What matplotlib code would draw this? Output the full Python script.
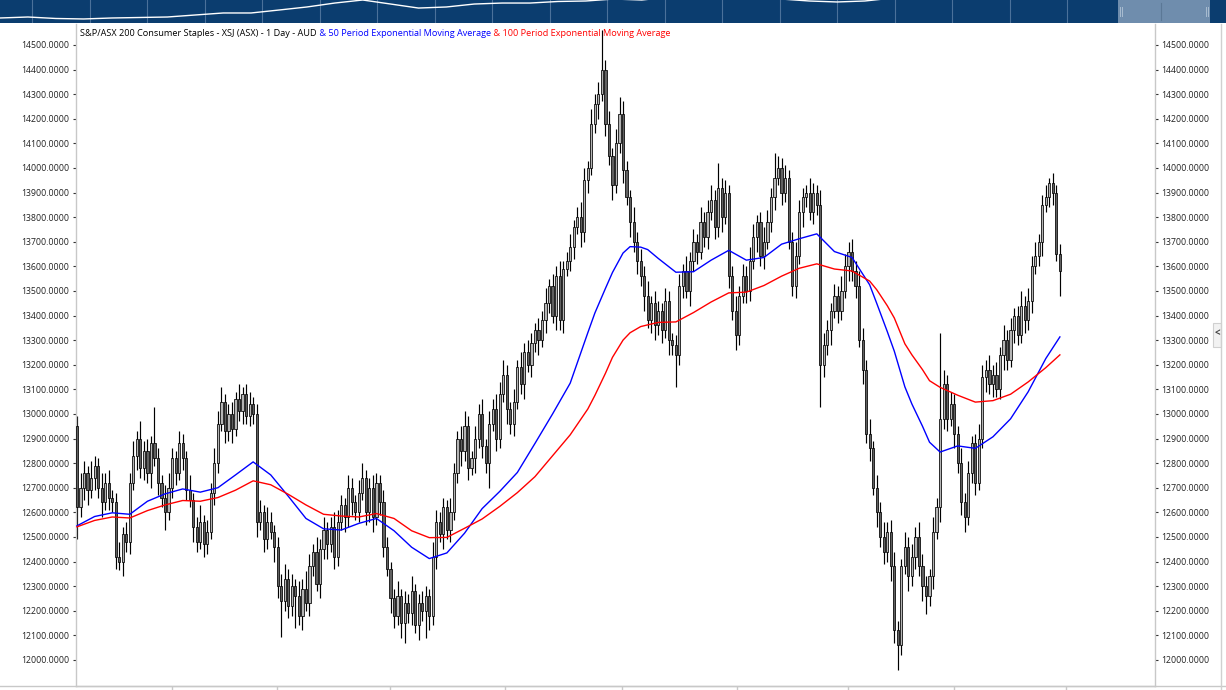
import matplotlib
matplotlib.use("Agg")
import matplotlib.pyplot as plt
from matplotlib.patches import Rectangle
from matplotlib.lines import Line2D
import numpy as np

plt.rcParams['font.family'] = ['Open Sans', 'DejaVu Sans']

# daily candles (open of day 0, then each open = previous close)
first_open = 12950
closes = [
    12620, 12700, 12760, 12690, 12740, 12790, 12700, 12640, 12720, 12660,
    12640, 12420, 12400, 12510, 12480, 12720, 12830, 12900, 12780, 12850,
    12760, 12880, 12820, 12720, 12660, 12600, 12700, 12820, 12760, 12880,
    12820, 12690, 12650, 12540, 12480, 12560, 12470, 12520, 12680, 12800,
    12960, 13050, 12930, 13000, 12940, 13060, 13010, 13080, 12990, 13040,
    13000, 12560, 12600, 12490, 12560, 12520, 12460, 12300, 12240, 12330,
    12220, 12300, 12260, 12180, 12290, 12230, 12380, 12440, 12310, 12450,
    12530, 12470, 12540, 12420, 12560, 12630, 12580, 12700, 12640, 12600,
    12680, 12740, 12600, 12700, 12580, 12720, 12640, 12460, 12370, 12250,
    12180, 12260, 12150, 12230, 12190, 12280, 12140, 12230, 12200, 12260,
    12180, 12420, 12560, 12510, 12620, 12530, 12600, 12760, 12900, 12850,
    12950, 12780, 12820, 12900, 13000, 12870, 12800, 12960, 13020, 12900,
    13080, 13160, 13020, 12960, 13050, 13190, 13120, 13250, 13200, 13290,
    13340, 13300, 13380, 13450, 13520, 13400, 13560, 13380, 13590, 13620,
    13680, 13760, 13800, 13740, 13950, 14000, 14180, 14260, 14300, 14400,
    14180, 14050, 13930, 14100, 14220, 13990, 13880, 13780, 13700, 13620,
    13560, 13480, 13380, 13450, 13360, 13420, 13340, 13460, 13300, 13280,
    13240, 13520, 13580, 13500, 13620, 13700, 13660, 13780, 13720, 13820,
    13870, 13760, 13920, 13800, 13900, 13560, 13420, 13320, 13480, 13560,
    13500, 13620, 13720, 13780, 13640, 13700, 13780, 13880, 13960, 14000,
    13900, 13960, 13700, 13520, 13640, 13820, 13880, 13900, 13820, 13900,
    13850, 13200, 13280, 13340, 13420, 13480, 13420, 13500, 13600, 13660,
    13580, 13520, 13300, 13180, 12920, 12860, 12700, 12600, 12500, 12440,
    12520, 12380, 12120, 12060, 12380, 12460, 12340, 12420, 12500, 12380,
    12300, 12260, 12340, 12520, 12620, 12980, 13120, 12980, 13040, 12920,
    12800, 12640, 12580, 12760, 12880, 12720, 12900, 13150, 13180, 13120,
    13160, 13100, 13240, 13300, 13220, 13340, 13400, 13320, 13440, 13380,
    13460, 13600, 13640, 13700, 13850, 13880, 13940, 13900, 13650, 13580,
]
# wick length above / below the body
wick_hi = [
    40, 60, 50, 30, 70, 40, 30, 60, 40, 50,
    30, 40, 60, 30, 50, 40, 60, 30, 70, 40,
    50, 30, 150, 40, 30, 50, 60, 40, 30, 50,
    40, 30, 60, 30, 40, 70, 30, 50, 40, 60,
    50, 60, 30, 40, 50, 30, 60, 30, 40, 50,
    30, 40, 50, 30, 60, 40, 30, 40, 50, 60,
    40, 50, 30, 60, 40, 70, 50, 30, 60, 40,
    50, 30, 40, 60, 50, 40, 30, 50, 40, 30,
    50, 60, 30, 40, 50, 40, 30, 50, 40, 30,
    40, 60, 30, 50, 40, 60, 30, 40, 50, 40,
    30, 60, 50, 40, 40, 30, 60, 40, 30, 50,
    60, 40, 30, 50, 40, 60, 30, 50, 40, 60,
    50, 60, 40, 30, 50, 30, 60, 40, 50, 40,
    30, 50, 40, 60, 30, 50, 40, 60, 30, 40,
    50, 30, 40, 60, 50, 30, 60, 40, 50, 160,
    40, 50, 30, 60, 70, 50, 40, 30, 60, 40,
    50, 40, 60, 30, 50, 40, 30, 50, 40, 30,
    40, 50, 30, 60, 40, 50, 30, 60, 40, 50,
    60, 40, 100, 40, 50, 30, 40, 60, 40, 50,
    40, 60, 50, 30, 40, 60, 50, 40, 100, 50,
    40, 50, 30, 40, 60, 50, 40, 30, 60, 40,
    30, 60, 50, 40, 30, 50, 40, 60, 50, 40,
    50, 40, 60, 50, 40, 60, 30, 50, 40, 60,
    40, 50, 60, 40, 30, 60, 40, 50, 40, 60,
    50, 40, 30, 60, 40, 350, 60, 40, 50, 40,
    30, 60, 40, 50, 30, 40, 60, 50, 40, 60,
    40, 50, 30, 60, 40, 50, 30, 40, 60, 40,
    50, 40, 60, 30, 40, 50, 20, 40, 30, 40,
]
wick_lo = [
    130, 40, 50, 60, 30, 50, 40, 60, 30, 50,
    40, 50, 35, 60, 40, 50, 30, 60, 40, 50,
    40, 60, 30, 50, 40, 70, 30, 40, 50, 30,
    50, 40, 30, 60, 40, 30, 50, 40, 30, 50,
    40, 30, 50, 40, 60, 30, 40, 50, 30, 40,
    40, 60, 30, 50, 40, 30, 60, 50, 145, 40,
    50, 40, 130, 40, 60, 30, 50, 40, 30, 60,
    40, 60, 30, 50, 40, 30, 60, 40, 50, 30,
    40, 30, 50, 40, 60, 30, 50, 40, 30, 60,
    50, 40, 60, 80, 40, 50, 30, 60, 40, 110,
    60, 40, 50, 30, 60, 40, 50, 30, 40, 60,
    40, 50, 30, 60, 40, 50, 40, 100, 30, 50,
    40, 30, 60, 40, 50, 30, 40, 60, 30, 50,
    40, 60, 30, 50, 40, 30, 60, 40, 50, 30,
    40, 50, 30, 60, 40, 50, 30, 40, 60, 30,
    50, 40, 60, 30, 40, 50, 30, 60, 40, 50,
    40, 60, 30, 50, 60, 40, 50, 30, 60, 40,
    130, 40, 50, 30, 60, 40, 50, 30, 40, 50,
    30, 50, 40, 60, 30, 50, 40, 60, 40, 30,
    50, 40, 30, 60, 40, 50, 30, 40, 50, 30,
    50, 40, 30, 40, 50, 30, 60, 40, 30, 50,
    40, 170, 50, 40, 60, 30, 50, 40, 30, 60,
    40, 50, 30, 60, 40, 50, 30, 60, 40, 50,
    40, 60, 50, 100, 40, 30, 60, 40, 50, 40,
    60, 75, 40, 50, 30, 60, 40, 50, 30, 60,
    40, 50, 60, 30, 40, 50, 30, 40, 60, 40,
    50, 30, 40, 60, 40, 30, 50, 40, 30, 50,
    40, 50, 30, 40, 60, 30, 40, 50, 30, 100,
]

# moving averages at these sessions
ema_idx = [
    0, 5, 10, 15, 20, 25, 30, 35, 40, 45,
    50, 55, 60, 65, 70, 75, 80, 85, 90, 95,
    100, 105, 110, 115, 120, 125, 130, 135, 140, 145,
    147, 150, 152, 155, 157, 160, 162, 165, 170, 175,
    180, 185, 190, 195, 200, 205, 210, 215, 220, 225,
    227, 230, 232, 235, 237, 240, 242, 245, 250, 255,
    260, 265, 270, 275, 279,
]
ema50 = [
    12545, 12583, 12598, 12592, 12645, 12675, 12695, 12682, 12700, 12752,
    12805, 12752, 12665, 12575, 12533, 12528, 12555, 12575, 12525, 12458,
    12412, 12435, 12515, 12615, 12685, 12762, 12880, 13000, 13125, 13330,
    13410, 13510, 13575, 13654, 13680, 13678, 13668, 13632, 13576, 13578,
    13625, 13665, 13625, 13636, 13690, 13712, 13732, 13660, 13636, 13525,
    13450, 13335, 13255, 13110, 13040, 12950, 12885, 12845, 12870, 12860,
    12907, 12980, 13090, 13225, 13313,
]
ema100 = [
    12541, 12567, 12581, 12577, 12607, 12630, 12648, 12645, 12660, 12690,
    12728, 12712, 12673, 12630, 12592, 12585, 12581, 12595, 12575, 12525,
    12497, 12498, 12535, 12573, 12624, 12680, 12745, 12830, 12915, 13020,
    13075, 13165, 13230, 13300, 13330, 13355, 13362, 13372, 13374, 13412,
    13455, 13492, 13495, 13522, 13560, 13592, 13610, 13589, 13581, 13540,
    13505, 13440, 13390, 13285, 13240, 13180, 13135, 13108, 13076, 13048,
    13054, 13080, 13130, 13188, 13240,
]

# long-history overview shown in the navigator strip
nav_vals = [
    12210, 12330, 12150, 12090, 12210, 12270, 12330, 12575, 12820, 12820,
    13180, 13550, 14030, 14400, 13910, 13420, 13550, 13910, 14030, 14030,
    14220, 14280, 14520, 14400, 14760, 14760, 14880, 14760, 14520, 14280,
    14160, 14280, 14640, 14800, 14900, 14900, 15000, 15000, 14950, 15000,
    15050, 15050, 15100, 15100,
]

month_ticks = [27.0, 56.8, 88.8, 121.5, 154.7, 187.3, 218.8, 248.9, 280.7]
price_ticks = list(range(12000, 14600, 100))
title_parts = [
    ("S&P/ASX 200 Consumer Staples - XSJ (ASX) - 1 Day - AUD", "#000000"),
    (" & 50 Period Exponential Moving Average", "#0000ff"),
    (" & 100 Period Exponential Moving Average", "#ff0000"),
]

W, H = 1226, 690
fig = plt.figure(figsize=(W / 100, H / 100), dpi=100)
fig.patch.set_facecolor("white")

# ---- main price panel
ax = fig.add_axes([76 / W, 4 / H, (1155 - 76) / W, (686 - 24) / H])
ax.set_facecolor("white")

n = len(closes)
x = np.arange(n)
opens = np.array([first_open] + closes[:-1])
cl = np.array(closes)
top = np.maximum(opens, cl)
bot = np.minimum(opens, cl)
highs = top + np.array(wick_hi)
lows = bot - np.array(wick_lo)
up = cl >= opens

ax.vlines(x, lows, highs, color="black", lw=0.85, zorder=2)
body_h = np.where(np.abs(cl - opens) < 8, 8, cl - opens)
ax.bar(x[up], body_h[up], bottom=opens[up], width=0.62, color="#b4b4b4",
       edgecolor="black", linewidth=0.55, zorder=3)
ax.bar(x[~up], body_h[~up], bottom=opens[~up], width=0.62, color="#606060",
       edgecolor="black", linewidth=0.55, zorder=3)

ax.plot(ema_idx, ema50, color="#0000ff", lw=1.0, zorder=4)
ax.plot(ema_idx, ema100, color="#ff0000", lw=1.0, zorder=4)

ax.set_xlim(-0.28, 306)
ax.set_ylim(11894, 14585)

ax.spines["top"].set_visible(False)
for s in ["left", "right", "bottom"]:
    ax.spines[s].set_color("#c8c8c8")
    ax.spines[s].set_linewidth(1.0)

ax.set_yticks(price_ticks)
ax.set_yticklabels([f"{v:.4f}" for v in price_ticks])
ax.set_yticks([12000, 13000, 14000], minor=True)
ax.tick_params(axis="y", which="major", direction="out", length=2.2, width=0.8,
               color="#333333", labelsize=6.3, labelcolor="#222222", pad=2.6,
               left=True, right=True, labelleft=True, labelright=True)
ax.tick_params(axis="y", which="minor", direction="out", length=4.6, width=0.8,
               color="#333333", left=True, right=True)
ax.set_xticks(month_ticks)
ax.set_xticklabels([])
ax.tick_params(axis="x", direction="out", length=4, width=1, color="#c8c8c8")

# ---- navigator strip on top
nav = fig.add_axes([0, 1 - 23 / H, 1, 23 / H])
nav.set_facecolor("#0b3d6f")
nav.plot(np.arange(len(nav_vals)), nav_vals, color="white", lw=1.0)
nav.set_xlim(0, W / 27.9)
nav.set_ylim(11600, 14400)
for gx in np.arange(32, 1100, 57.5) / 27.9:
    nav.axvline(gx, color="#5c7fa6", lw=0.8, alpha=0.8, zorder=0)
nav.add_patch(Rectangle((1118 / W, 0), 92 / W, 1, transform=nav.transAxes,
                        facecolor="#7b97b5", edgecolor="none", alpha=0.9, zorder=3))
for hx in (1120, 1122, 1206, 1208):
    nav.add_line(Line2D([hx / W, hx / W], [0.3, 0.7], transform=nav.transAxes,
                        color="#a9bdd1", lw=0.7, zorder=4))
nav.add_line(Line2D([1161 / W, 1161 / W], [0.15, 0.85], transform=nav.transAxes,
                    color="#5b7896", lw=0.8, zorder=4))
nav.set_xticks([])
nav.set_yticks([])
for s in nav.spines.values():
    s.set_visible(False)

# ---- frame lines around the panel
fig.add_artist(Line2D([0, 1], [4 / H, 4 / H], color="#c8c8c8", lw=1.0))
fig.add_artist(Line2D([1221 / W, 1221 / W], [0, 1 - 24 / H], color="#d0d0d0", lw=1.0))
fig.add_artist(Rectangle((1213 / W, 1 - 347 / H), 8 / W, 24 / H, facecolor="#f2f2f2",
                         edgecolor="#d0d0d0", lw=0.8))
fig.text(1217 / W, 1 - 334 / H, "<", fontsize=7, fontweight="bold", color="#444444",
         ha="center", va="center")

# ---- multi-coloured legend title
fig.canvas.draw()
renderer = fig.canvas.get_renderer()
tx = 80 / W
for txt, col in title_parts:
    t = fig.text(tx, 1 - 33.5 / H, txt, color=col, fontsize=6.6, va="center", ha="left")
    bb = t.get_window_extent(renderer)
    tx = bb.x1 / fig.bbox.width

fig.savefig("out.png", dpi=100, facecolor="white")
